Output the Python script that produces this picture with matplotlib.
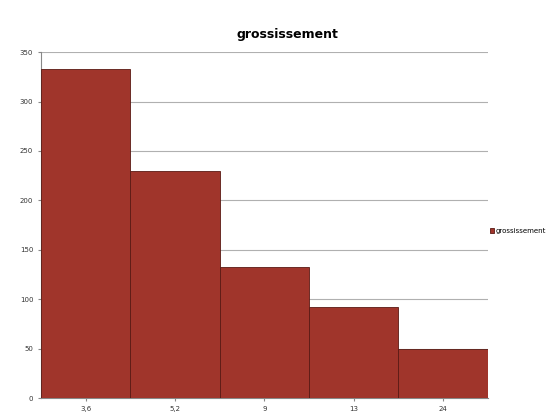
import numpy as np
import matplotlib.pyplot as plt

categories = ['3,6', '5,2', '9', '13', '24']
values = [333, 230, 133, 92, 50]
yticks = [0, 50, 100, 150, 200, 250, 300, 350]

fig = plt.figure(figsize=(5.6, 4.2), dpi=100)
ax = fig.add_axes([0.073, 0.052, 0.798, 0.824])

x = np.arange(len(categories))
ax.bar(x, values, width=1.0, color='#a0352b', edgecolor='#5a1a14', linewidth=0.6,
       label='grossissement', zorder=3)

ax.set_xlim(-0.5, len(categories) - 0.5)
ax.set_ylim(0, 350)
ax.set_yticks(yticks)
ax.set_xticks(x)
ax.set_xticklabels(categories)
ax.yaxis.grid(True, color='#b0b0b0', linewidth=0.8, zorder=0)
ax.tick_params(axis='both', labelsize=5, length=2, color='#888888', labelcolor='#333333')
for s in ['top', 'right']:
    ax.spines[s].set_visible(False)
ax.spines['left'].set_color('#888888')
ax.spines['bottom'].set_color('#888888')

# title sits a bit right of the plot centre in the original
fig.text(0.514, 0.918, 'grossissement', fontsize=9, fontweight='bold', ha='center', va='center')
ax.legend(loc='center left', bbox_to_anchor=(0.99, 0.483), fontsize=5, frameon=False,
          handlelength=0.6, handleheight=0.6, handletextpad=0.3)

fig.savefig('out.png', dpi=100)
